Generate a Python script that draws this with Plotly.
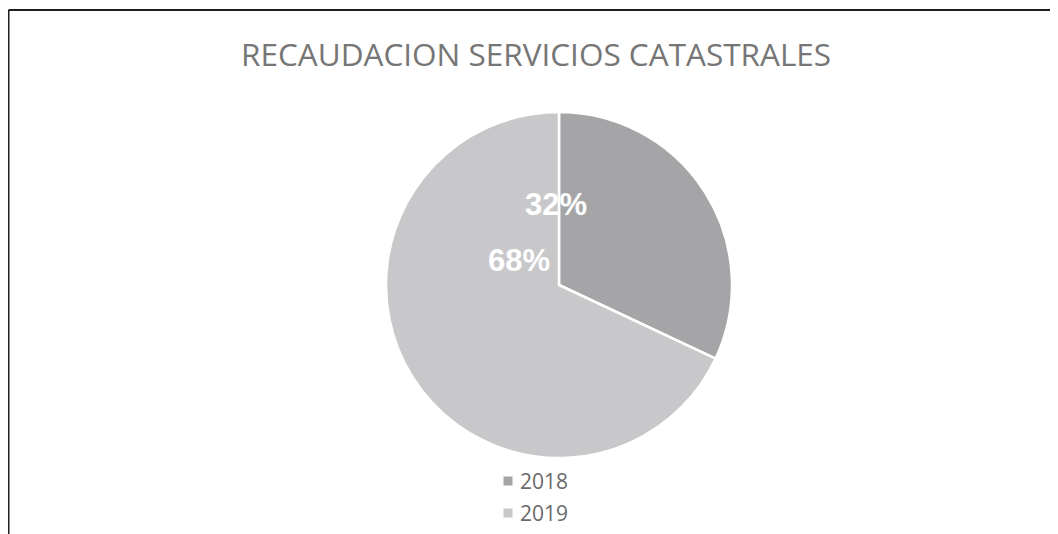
import plotly.graph_objects as go

# Data
categories = ["2018", "2019"]
values = [32, 68]
title_text = "RECAUDACION SERVICIOS CATASTRALES"

colors = ["#a5a5a8", "#c8c8ca"]

# The page body has an 8px margin, so the figure starts at page (8, 8)
OFF = 8
W, H = 1050, 526

def px(x):
    return (x - OFF) / W

def py(y):
    return 1 - (y - OFF) / H

cx, cy, r = 559, 285, 173

fig = go.Figure()
fig.add_trace(go.Pie(
    labels=categories,
    values=values,
    sort=False,
    direction="clockwise",
    rotation=0,
    marker=dict(colors=colors, line=dict(color="white", width=2.5)),
    textinfo="none",
    hoverinfo="label+percent",
    domain=dict(x=[px(cx - r), px(cx + r)], y=[py(cy + r), py(cy - r)]),
    showlegend=False,
))

total = sum(values)
pct_labels = [f"{round(v / total * 100)}%" for v in values]
label_pos = [(556, 205), (519, 260)]
for t, (x, y) in zip(pct_labels, label_pos):
    fig.add_annotation(x=px(x), y=py(y), xref="paper", yref="paper",
                       text=t, showarrow=False,
                       font=dict(family="Liberation Sans, Arial", size=31, color="white", weight="bold"),
                       xanchor="center", yanchor="middle")

# Legend (manual, matching the reference layout)
leg_y = [481, 513]
for cat, col, y in zip(categories, colors, leg_y):
    fig.add_shape(type="rect", xref="paper", yref="paper",
                  x0=px(503.5), x1=px(512.5), y0=py(y + 4.5), y1=py(y - 4.5),
                  fillcolor=col, line=dict(width=0))
    fig.add_annotation(x=px(518), y=py(y), xref="paper", yref="paper",
                       text=cat, showarrow=False,
                       font=dict(family="Open Sans", size=21, color="#6b6b6b"),
                       xanchor="left", yanchor="middle")

# Title
fig.add_annotation(x=px(536), y=py(54), xref="paper", yref="paper",
                   text=title_text, showarrow=False,
                   font=dict(family="Open Sans", size=31.5, color="#767676"),
                   xanchor="center", yanchor="middle")

# Chart border (top and left visible)
fig.add_shape(type="line", xref="paper", yref="paper",
              x0=px(8.5), x1=1, y0=py(10), y1=py(10),
              line=dict(color="#1e1e1e", width=2))
fig.add_shape(type="line", xref="paper", yref="paper",
              x0=px(8.5), x1=px(8.5), y0=py(10), y1=0,
              line=dict(color="#1e1e1e", width=2))

fig.update_layout(
    width=W, height=H,
    margin=dict(l=0, r=0, t=0, b=0),
    paper_bgcolor="white",
    plot_bgcolor="white",
)

fig.write_html("out.html")
